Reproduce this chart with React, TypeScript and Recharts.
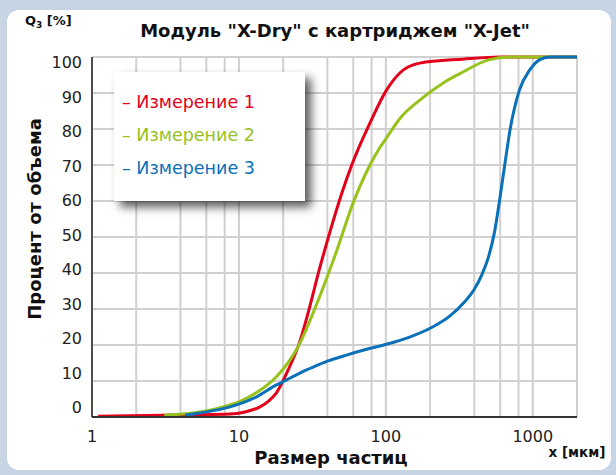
import React from "react";
import { LineChart, Line, XAxis, YAxis, CartesianGrid } from "recharts";

// particle size (µm) and cumulative volume Q3 (%) for each measurement
const size1 = [1.1, 3, 5, 8.7, 11, 13.9, 16, 18, 21.6, 26, 30.5, 35, 41.7, 50, 58.6, 78, 101, 124, 170, 334, 600, 2000];
const q1 = [0.2, 0.5, 0.6, 0.8, 1.4, 2.8, 4.5, 6.7, 13, 21, 31, 40.5, 51.5, 62, 70, 81.7, 90.8, 95.5, 98.3, 99.4, 100, 100];

const size2 = [3.1, 5, 7.8, 10, 13.2, 18, 22, 26, 32.8, 46.5, 59.3, 78, 90, 101, 125, 170, 250, 330, 500, 700, 2000];
const q2 = [0.5, 1.2, 2.8, 4.2, 6.8, 11.2, 15.5, 20.5, 30, 46.4, 59, 70, 74.5, 77.5, 83, 88, 93, 95.7, 99.2, 100, 100];

const size3 = [4.3, 5.4, 8.7, 13.2, 18, 20, 22, 26, 31.8, 40, 54, 74, 101, 145, 208, 272, 340, 400, 450, 500, 550, 595, 647, 700, 811, 955, 1110, 1300, 2000];
const q3 = [0.5, 1.1, 2.8, 5.6, 8.9, 9.8, 10.7, 12.2, 13.8, 15.5, 17.2, 18.8, 20.2, 22.2, 25, 28, 31.8, 35.5, 39.5, 44.5, 51.5, 60.3, 70.5, 79.7, 90.8, 96.4, 99.2, 100, 100];

const xTicks = [1, 2, 4, 6, 8, 10, 20, 40, 60, 80, 100, 200, 400, 600, 800, 1000, 2000];
const xLabels = [1, 10, 100, 1000];
const yTicks = [0, 10, 20, 30, 40, 50, 60, 70, 80, 90, 100];

const series = [
  { name: "Измерение 1", color: "#e3001b", data: size1.map((x, i) => ({ x, y: q1[i] })) },
  { name: "Измерение 2", color: "#97c21c", data: size2.map((x, i) => ({ x, y: q2[i] })) },
  { name: "Измерение 3", color: "#0a70b8", data: size3.map((x, i) => ({ x, y: q3[i] })) },
];

const FONT = "'DejaVu Sans', Verdana, sans-serif";

function XTick({ x, y, payload }: any) {
  if (!xLabels.includes(payload.value)) return null;
  return (
    <text x={x} y={y + 17} textAnchor="middle" fontSize={16} fill="#222" fontFamily={FONT}>
      {payload.value}
    </text>
  );
}

function YTick({ y, payload }: any) {
  const v = payload.value;
  const shift = 5 - (100 - v) * 0.15;
  return (
    <text x={82} y={y + shift + 6} textAnchor="end" fontSize={16} fill="#222" fontFamily={FONT}>
      {v}
    </text>
  );
}

function LegendBox() {
  return (
    <div
      style={{
        position: "absolute",
        left: 114,
        top: 72,
        width: 191,
        height: 129,
        background: "#fff",
        boxShadow: "6px 6px 9px rgba(0,0,0,0.65)",
        fontFamily: FONT,
        fontSize: 17.5,
        paddingTop: 20,
        boxSizing: "border-box",
      }}
    >
      {series.map((s) => (
        <div key={s.name} style={{ color: s.color, height: 33, paddingLeft: 8, whiteSpace: "nowrap" }}>
          – {s.name}
        </div>
      ))}
    </div>
  );
}

export default function App() {
  return (
    <div style={{ position: "fixed", left: 0, top: 0, width: 616, height: 475, background: "#c6d4e3" }}>
      <div
        style={{
          position: "absolute",
          left: 7,
          top: 10,
          width: 604,
          height: 460,
          background: "#fff",
          borderRadius: 12,
        }}
      />
      <LineChart
        width={616}
        height={475}
        margin={{ top: 57, right: 39, bottom: 28, left: 32 }}
        style={{ position: "absolute", left: 0, top: 0 }}
      >
        <CartesianGrid stroke="#d0d0d0" strokeWidth={2} />
        <XAxis
          type="number"
          dataKey="x"
          scale="log"
          domain={[1, 2000]}
          ticks={xTicks}
          interval={0}
          allowDataOverflow
          tickLine={false}
          tick={<XTick />}
          height={30}
          axisLine={{ stroke: "#333", strokeWidth: 2 }}
        />
        <YAxis
          type="number"
          dataKey="y"
          domain={[0, 100]}
          ticks={yTicks}
          interval={0}
          tickLine={false}
          tick={<YTick />}
          width={60}
          axisLine={{ stroke: "#222", strokeWidth: 1.5 }}
        />
        {series.map((s) => (
          <Line
            key={s.name}
            data={s.data}
            dataKey="y"
            name={s.name}
            type="monotone"
            stroke={s.color}
            strokeWidth={3}
            dot={false}
            isAnimationActive={false}
          />
        ))}
        <text x={335} y={37} textAnchor="middle" fontSize={18} fontWeight="bold" fill="#111" fontFamily={FONT}>
          Модуль "X-Dry" с картриджем "X-Jet"
        </text>
        <text x={25} y={25} fontSize={13} fontWeight="bold" fill="#111" fontFamily={FONT}>
          Q<tspan fontSize={9} dy={3}>3</tspan>
          <tspan dy={-3}> [%]</tspan>
        </text>
        <text
          x={41}
          y={219}
          textAnchor="middle"
          fontSize={18}
          fontWeight="bold"
          fill="#111"
          fontFamily={FONT}
          transform="rotate(-90 41 219)"
        >
          Процент от объема
        </text>
        <text x={331} y={464} textAnchor="middle" fontSize={18} fontWeight="bold" fill="#111" fontFamily={FONT}>
          Размер частиц
        </text>
        <text x={577} y={457} textAnchor="middle" fontSize={13.5} fontWeight="bold" fill="#111" fontFamily={FONT}>
          x [мкм]
        </text>
      </LineChart>
      <LegendBox />
    </div>
  );
}
